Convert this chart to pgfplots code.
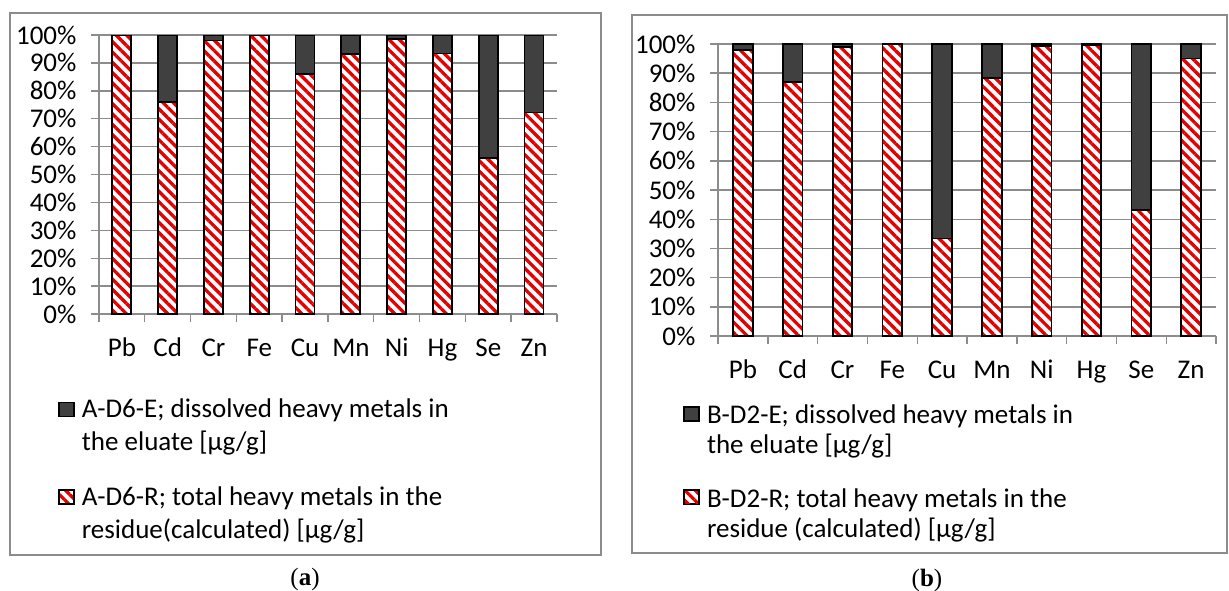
\documentclass[border=0pt]{standalone}
\usepackage{fontspec}
\setmainfont{Carlito}
\newfontfamily\capfont{Liberation Serif}
\usepackage{pgfplots}
\pgfplotsset{compat=1.18}
\usetikzlibrary{patterns.meta}

\definecolor{gridgray}{RGB}{140,140,140}
\definecolor{darkbar}{RGB}{64,64,64}
\definecolor{stripe}{RGB}{228,0,0}

\pgfplotsset{
  metalaxis/.style={
    scale only axis, anchor=south west,
    ybar stacked,
    ymin=0, ymax=100, xmin=-0.5, xmax=9.5,
    ytick={0,10,...,100},
    yticklabel={\pgfmathprintnumber{\tick}\%},
    /pgf/number format/assume math mode=true,
    ymajorgrids, grid style={gridgray, line width=1.4pt},
    axis x line*=bottom, axis y line*=left,
    axis line style={gridgray, line width=1.4pt, -},
    xtick={0,...,9},
    xticklabels={Pb,Cd,Cr,Fe,Cu,Mn,Ni,Hg,Se,Zn},
    minor xtick={-0.5,0.5,...,9.5},
    tick align=outside,
    major tick length=8pt, minor tick length=8pt,
    major x tick style={draw=none},
    ytick style={gridgray, line width=1.4pt},
    minor x tick style={gridgray, line width=1.4pt},
    tick label style={font=\fontsize{27}{32}\selectfont},
    yticklabel style={xshift=-11pt},
    xticklabel style={yshift=-12pt, text height=19pt, text depth=6pt},
    legend cell align=left,
    reverse legend,
    legend image code/.code={\draw[##1, line width=1.5pt] (0pt,9pt) rectangle (15pt,23pt); \path (20pt,16pt);},
  },
  residue/.style={preaction={fill=white}, pattern={Lines[angle=-45,distance=7.3pt,line width=3.3pt]}, pattern color=stripe, draw=black, line width=1.8pt},
  eluate/.style={fill=darkbar, draw=black, line width=1.8pt},
}

\begin{document}
\begin{tikzpicture}
\useasboundingbox (0,0) rectangle (1229pt,590pt);
\draw[gridgray, line width=1.5pt] (10pt,577pt) rectangle (601pt,35pt);
\draw[gridgray, line width=1.5pt] (632pt,575pt) rectangle (1227pt,37pt);

\begin{axis}[metalaxis, at={(99pt,276pt)}, width=458pt, height=279pt, bar width=19pt,
  legend style={at={(-0.096,-0.29)}, anchor=north west, draw=none, fill=none,
    font=\fontsize{27}{33}\selectfont, row sep=30pt, cells={align=left, font=\fontsize{27}{33}\selectfont}}]
\addplot[residue] coordinates {(0,100) (1,76.1) (2,98.0) (3,100) (4,86.0) (5,93.1) (6,98.6) (7,93.4) (8,55.8) (9,72.2)};
\addlegendentry{A-D6-R; total heavy metals in the\\residue(calculated) [µg/g]}
\addplot[eluate] coordinates {(0,0) (1,23.9) (2,2.0) (3,0) (4,14.0) (5,6.9) (6,1.4) (7,6.6) (8,44.2) (9,27.8)};
\addlegendentry{A-D6-E; dissolved heavy metals in\\the eluate [µg/g]}
\end{axis}

\begin{axis}[metalaxis, at={(718pt,254pt)}, width=498pt, height=292pt, bar width=19.5pt,
  legend style={at={(-0.076,-0.222)}, anchor=north west, draw=none, fill=none,
    font=\fontsize{27}{30}\selectfont, row sep=29pt, cells={align=left, font=\fontsize{27}{30}\selectfont}}]
\addplot[residue] coordinates {(0,97.9) (1,87.1) (2,99.1) (3,100) (4,33.4) (5,88.4) (6,99.3) (7,99.7) (8,43.1) (9,95.0)};
\addlegendentry{B-D2-R; total heavy metals in the\\residue (calculated) [µg/g]}
\addplot[eluate] coordinates {(0,2.1) (1,12.9) (2,0.9) (3,0) (4,66.6) (5,11.6) (6,0.7) (7,0.3) (8,56.9) (9,5.0)};
\addlegendentry{B-D2-E; dissolved heavy metals in\\the eluate [µg/g]}
\end{axis}

\node[font=\capfont\fontsize{25}{30}\selectfont] at (305pt,11pt) {(\textbf{a})};
\node[font=\capfont\fontsize{25}{30}\selectfont] at (927pt,10pt) {(\textbf{b})};
\end{tikzpicture}
\end{document}
